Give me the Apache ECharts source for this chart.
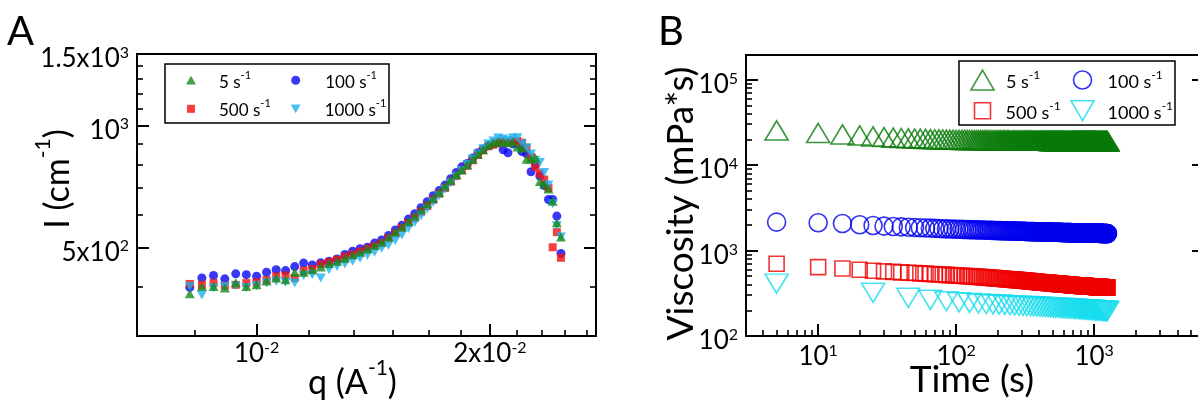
<!DOCTYPE html>
<html>
<head>
<meta charset="utf-8">
<script src="https://cdn.jsdelivr.net/npm/echarts@6/dist/echarts.min.js"></script>
<style>
html,body{margin:0;padding:0;background:#fff;}
#chart{width:1198px;height:403px;background:#fff;}
</style>
</head>
<body>
<div id="chart"></div>
<script>
// ---------------- Panel A data: I(q) ----------------
const qValues = [
  0.0082,0.0085,0.0088,0.0091,0.0094,0.0097,0.0100,0.0103,0.0106,0.0109,
  0.0112,0.0115,0.0118,0.0121,0.0124,0.0127,0.0130,0.0133,0.0136,0.0139,
  0.0142,0.0145,0.0148,0.0151,0.0154,0.0157,0.0160,0.0163,0.0166,0.0169,
  0.0172,0.0175,0.0178,0.0181,0.0184,0.0187,0.0190,0.0193,0.0196,0.0199,
  0.0202,0.0205,0.0208,0.0211,0.0214,0.0217,0.0220,0.0223,0.0226,0.0229,
  0.0232,0.0235,0.0238,0.0241,0.0244,0.0247
];
const intensity5 = [
  384,400,400,397,409,400,404,413,420,416,
  434,434,440,447,456,462,470,479,486,495,
  506,515,530,546,561,579,597,619,640,661,
  684,708,732,756,776,798,823,848,871,893,
  906,911,910,906,910,884,878,825,826,830,
  727,716,696,650,575,530
];
const intensity100 = [
  398,420,426,418,430,428,424,434,440,438,
  448,457,452,458,462,468,480,489,496,500,
  512,521,535,552,567,587,605,626,648,670,
  690,712,738,765,790,805,830,856,874,890,
  900,905,870,856,900,898,862,850,768,800,
  750,710,656,656,597,483
];
const intensity500 = [
  406,404,408,402,404,408,410,415,424,426,
  420,438,442,454,460,466,474,480,488,496,
  504,512,526,541,558,574,591,612,632,655,
  678,700,726,750,775,795,820,845,868,888,
  896,906,912,908,912,915,906,880,835,790,
  760,735,700,500,545,471
];
const intensity1000 = [
  400,381,397,400,402,398,402,408,412,410,
  408,426,428,420,440,448,455,462,470,478,
  486,497,506,520,536,556,576,598,622,646,
  670,695,722,748,774,800,826,850,876,900,
  915,930,925,918,930,932,900,880,850,820,
  810,765,712,640,565,530
];

// ---------------- Panel B data: viscosity(t) ----------------
const timeStep5 = [
  5,10,15,20,25,30,35,40,45,50,55,60,65,70,75,80,85,90,95,100,
  105,110,115,120,125,130,135,140,145,150,155,160,165,170,175,180,185,190,195,200,
  205,210,215,220,225,230,235,240,245,250,255,260,265,270,275,280,285,290,295,300,
  305,310,315,320,325,330,335,340,345,350,355,360,365,370,375,380,385,390,395,400,
  405,410,415,420,425,430,435,440,445,450,455,460,465,470,475,480,485,490,495,500,
  505,510,515,520,525,530,535,540,545,550,555,560,565,570,575,580,585,590,595,600,
  605,610,615,620,625,630,635,640,645,650,655,660,665,670,675,680,685,690,695,700,
  705,710,715,720,725,730,735,740,745,750,755,760,765,770,775,780,785,790,795,800,
  805,810,815,820,825,830,835,840,845,850,855,860,865,870,875,880,885,890,895,900,
  905,910,915,920,925,930,935,940,945,950,955,960,965,970,975,980,985,990,995,1000,
  1005,1010,1015,1020,1025,1030,1035,1040,1045,1050,1055,1060,1065,1070,1075,1080,1085,1090,1095,1100,
  1105,1110,1115,1120,1125,1130,1135,1140,1145,1150,1155,1160,1165,1170,1175,1180,1185,1190,1195,1200,
  1205,1210,1215,1220,1225,1230,1235,1240,1245,1250
];
const timeStep20 = [
  5,25,45,65,85,105,125,145,165,185,
  205,225,245,265,285,305,325,345,365,385,
  405,425,445,465,485,505,525,545,565,585,
  605,625,645,665,685,705,725,745,765,785,
  805,825,845,865,885,905,925,945,965,985,
  1005,1025,1045,1065,1085,1105,1125,1145,1165,1185,
  1205,1225,1245
];
const viscosity5 = [
  25400,23700,22800,22200,21600,21200,20900,20700,20500,20400,20300,20200,20100,20000,19950,19900,19850,19800,19750,19700,
  19680,19660,19650,19630,19620,19600,19590,19570,19560,19550,19540,19520,19510,19500,19490,19470,19460,19450,19430,19420,
  19410,19400,19400,19390,19380,19370,19370,19360,19350,19340,19340,19330,19320,19320,19310,19300,19300,19290,19280,19280,
  19270,19270,19260,19260,19250,19250,19240,19240,19230,19230,19220,19220,19220,19210,19210,19200,19200,19200,19190,19190,
  19190,19180,19180,19180,19170,19170,19170,19160,19160,19160,19160,19150,19150,19150,19150,19140,19140,19140,19140,19130,
  19130,19130,19130,19120,19120,19120,19120,19120,19110,19110,19110,19110,19110,19100,19100,19100,19100,19100,19100,19090,
  19090,19090,19090,19090,19080,19080,19080,19080,19080,19080,19070,19070,19070,19070,19070,19070,19060,19060,19060,19060,
  19060,19060,19050,19050,19050,19050,19050,19050,19050,19040,19040,19040,19040,19040,19040,19040,19030,19030,19030,19030,
  19030,19030,19030,19030,19020,19020,19020,19020,19020,19020,19020,19020,19010,19010,19010,19010,19010,19010,19010,19010,
  19000,19000,19000,19000,19000,18990,18990,18990,18990,18990,18990,18990,18990,18980,18980,18980,18980,18980,18980,18980,
  18980,18970,18970,18970,18970,18970,18970,18970,18970,18960,18960,18960,18960,18960,18960,18960,18960,18950,18950,18950,
  18950,18950,18950,18950,18950,18940,18940,18940,18940,18940,18940,18940,18940,18930,18930,18930,18930,18930,18930,18930,
  18920,18920,18920,18920,18920,18910,18910,18910,18900,18900
];
const viscosity100 = [
  2150,2110,2070,2000,1960,1930,1910,1890,1870,1855,1845,1835,1825,1815,1808,1800,1793,1786,1780,1775,
  1770,1766,1762,1758,1754,1750,1747,1744,1741,1738,1735,1732,1729,1726,1724,1721,1719,1716,1714,1712,
  1710,1708,1706,1704,1702,1700,1698,1696,1695,1693,1691,1690,1688,1687,1685,1684,1682,1681,1679,1678,
  1677,1675,1674,1673,1671,1670,1669,1668,1667,1665,1664,1663,1662,1661,1660,1659,1658,1657,1656,1655,
  1654,1653,1652,1651,1650,1649,1648,1648,1647,1646,1645,1644,1643,1643,1642,1641,1640,1640,1639,1638,
  1637,1637,1636,1635,1635,1634,1633,1633,1632,1631,1631,1630,1629,1629,1628,1628,1627,1626,1626,1625,
  1625,1624,1624,1623,1622,1622,1621,1621,1620,1620,1619,1619,1618,1618,1617,1617,1616,1616,1615,1615,
  1614,1614,1613,1613,1612,1612,1612,1611,1611,1610,1610,1609,1609,1609,1608,1608,1607,1607,1607,1606,
  1606,1605,1605,1605,1604,1604,1604,1603,1603,1603,1602,1602,1601,1601,1601,1600,1600,1600,1599,1599,
  1599,1598,1598,1598,1597,1597,1597,1596,1596,1596,1596,1595,1595,1595,1594,1594,1594,1593,1593,1593,
  1593,1592,1592,1592,1591,1591,1591,1591,1590,1590,1590,1589,1589,1589,1589,1588,1588,1588,1588,1587,
  1587,1587,1587,1586,1586,1586,1586,1585,1585,1585,1585,1584,1584,1584,1584,1583,1583,1583,1583,1582,
  1582,1582,1582,1582,1581,1581,1581,1581,1580,1580
];
const viscosity500 = [
  700,640,615,595,580,570,562,555,550,545,540,536,532,528,525,522,519,516,513,510,
  508,506,504,502,500,498,496,494,492,490,488,486,484,482,480,479,477,475,473,471,
  470,469,467,466,465,463,462,461,459,458,457,456,454,453,452,451,450,448,447,446,
  445,444,443,442,441,440,439,438,437,436,435,434,433,432,431,431,430,429,428,427,
  426,426,425,424,423,422,422,421,420,420,419,418,418,417,416,416,415,414,414,413,
  412,412,411,411,410,409,409,408,408,407,407,406,406,405,405,404,404,403,403,402,
  402,401,401,400,400,400,399,399,398,398,397,397,397,396,396,395,395,395,394,394,
  393,393,393,392,392,392,391,391,391,390,390,390,389,389,389,388,388,388,387,387,
  387,387,386,386,386,385,385,385,385,384,384,384,384,383,383,383,383,382,382,382,
  382,381,381,381,381,380,380,380,380,380,379,379,379,379,378,378,378,378,378,377,
  377,377,377,377,376,376,376,376,376,375,375,375,375,375,375,374,374,374,374,374,
  373,373,373,373,373,373,372,372,372,372,372,372,371,371,371,371,371,371,370,370,
  370,370,370,370,370,369,369,369,369,369
];
const viscosity1000 = [
  410,320,280,265,255,248,244,240,237,235,
  233,231,229,228,226,225,224,223,222,221,
  220,219,218,217,216,215,214,214,213,212,
  212,211,210,210,209,209,208,207,207,206,
  206,205,205,204,204,203,203,202,202,201,
  201,200,200,199,199,199,198,198,197,197,
  197,196,196
];

// ---------------- labels / ticks ----------------
const rateNames = ['5 s[-1]', '100 s[-1]', '500 s[-1]', '1000 s[-1]'];
const aXTicks = [0.01, 0.02];
const aXTickLabels = ['10[-2]', '2x10[-2]'];
const aXMinorTicks = [0.00833, 0.01167, 0.01333, 0.015, 0.01667, 0.01833, 0.02167, 0.02333, 0.025, 0.02667];
const aYTicks = [500, 1000, 1500];
const aYTickLabels = ['5x10[2]', '10[3]', '1.5x10[3]'];
const aYMinorTicks = [400, 600, 700, 800, 900, 1100, 1200, 1300, 1400];
const bXTicks = [10, 100, 1000];
const bXTickLabels = ['10[1]', '10[2]', '10[3]'];
const bXMinorTicks = [4,5,6,7,8,9,20,30,40,50,60,70,80,90,200,300,400,500,600,700,800,900,2000,3000,4000,5000,6000];
const bYTicks = [100, 1000, 10000, 100000];
const bYTickLabels = ['10[2]', '10[3]', '10[4]', '10[5]'];
const bYMinorTicks = [200,300,400,500,600,700,800,900,2000,3000,4000,5000,6000,7000,8000,9000,20000,30000,40000,50000,60000,70000,80000,90000];
const titleA = {x: 'q (A[-1])', y: 'I (cm[-1])', panel: 'A'};
const titleB = {x: 'Time (s)', y: 'Viscosity (mPa*s)', panel: 'B'};

const FONT = 'Lato';
function rich(str, spacer) {
  return (spacer ? '{p|\u200b}' : '') + str.split(/(\[[^\]]*\])/).filter(Boolean).map(function (p) {
    return p[0] === '[' ? '{s|' + p.slice(1, -1) + '}' : '{b|' + p + '}';
  }).join('') + '{h|\u200b}';
}
function richStyle(main, sup, line, spacer) {
  return {
    p: {width: spacer || 0, fontSize: 1, lineHeight: 1},
    b: {fontSize: main, lineHeight: main, verticalAlign: 'bottom', color: '#000', fontFamily: FONT},
    s: {fontSize: sup, lineHeight: sup, verticalAlign: 'top', color: '#000', fontFamily: FONT},
    h: {fontSize: 1, lineHeight: line, color: '#000'}
  };
}
function fmt(values, labels) {
  return function (v) {
    for (let i = 0; i < values.length; i++) {
      if (Math.abs(v - values[i]) / values[i] < 1e-6) return rich(labels[i]);
    }
    return '';
  };
}
const tickRich = richStyle(26, 16, 27);
const nameRichA = richStyle(34, 21, 42);
const nameRichB = richStyle(37, 23, 46);

const colA = {g: '#178a17', b: '#0808f2', r: '#f41010', c: '#1cb0ee'};
const colB = {g: '#0a7a0a', b: '#0000ee', r: '#f00000', c: '#16dcee'};

const P_UP = 'path://M5,0L10,8.66L0,8.66Z';
const P_DOWN = 'path://M0,0L10,0L5,8.66Z';
const P_CIRC = 'path://M0,5A5,5,0,1,1,10,5A5,5,0,1,1,0,5Z';
const P_SQ = 'path://M0,0L10,0L10,10L0,10Z';

const A = {xMin: 0.00701, xMax: 0.02741, yMin: 302, yMax: 1500};
const B = {xMin: 3, xMax: 6250, yMin: 100, yMax: 193600};

function axisBase(grid, pos, min, max) {
  return {
    type: 'log', logBase: 10, gridIndex: grid, position: pos, min: min, max: max,
    axisLine: {show: false}, splitLine: {show: false}, minorTick: {show: false},
    axisPointer: {show: false}, nameMoveOverlap: false
  };
}
function majorAxis(grid, pos, min, max, ticks, labels, showLabels, margin, pad) {
  const a = axisBase(grid, pos, min, max);
  a.axisTick = {show: true, inside: true, length: 12, lineStyle: {color: '#000', width: 2}, customValues: ticks};
  a.axisLabel = showLabels ? {show: true, customValues: ticks, formatter: fmt(ticks, labels), margin: margin, rich: tickRich, padding: pad || 0} : {show: false};
  return a;
}
function minorAxis(grid, pos, min, max, ticks) {
  const a = axisBase(grid, pos, min, max);
  a.axisTick = {show: true, inside: true, length: 6, lineStyle: {color: '#000', width: 1.6}, customValues: ticks};
  a.axisLabel = {show: false};
  return a;
}
function withName(axis, text, gap, rot, richSt, pad) {
  return Object.assign(axis, {
    name: rich(text), nameLocation: 'middle', nameGap: gap, nameRotate: rot,
    nameTextStyle: {rich: richSt, padding: pad}
  });
}

const xAxes = [
  withName(majorAxis(0, 'bottom', A.xMin, A.xMax, aXTicks, aXTickLabels, true, 4), titleA.x, 22, 0, nameRichA, [0, 28, 0, 0]),
  minorAxis(0, 'bottom', A.xMin, A.xMax, aXMinorTicks),
  withName(majorAxis(1, 'bottom', B.xMin, B.xMax, bXTicks, bXTickLabels, true, 7), titleB.x, 17, 0, nameRichB, [0, 6, 0, 0]),
  minorAxis(1, 'bottom', B.xMin, B.xMax, bXMinorTicks)
];
const yAxes = [
  withName(majorAxis(0, 'left', A.yMin, A.yMax, aYTicks, aYTickLabels, true, 8, [9, 0, 0, 0]), titleA.y, 62, 90, nameRichA, [0, 0, 0, 32]),
  minorAxis(0, 'left', A.yMin, A.yMax, aYMinorTicks),
  majorAxis(0, 'right', A.yMin, A.yMax, aYTicks, aYTickLabels, false, 0),
  minorAxis(0, 'right', A.yMin, A.yMax, aYMinorTicks),
  withName(majorAxis(1, 'left', B.yMin, B.yMax, bYTicks, bYTickLabels, true, 8, [9, 0, 0, 0]), titleB.y, 46, 90, nameRichB, [0, 16, 0, 0]),
  minorAxis(1, 'left', B.yMin, B.yMax, bYMinorTicks),
  majorAxis(1, 'right', B.yMin, B.yMax, bYTicks, bYTickLabels, false, 0),
  minorAxis(1, 'right', B.yMin, B.yMax, bYMinorTicks)
];

function pairs(xs, ys) { return xs.map(function (x, i) { return [x, ys[i]]; }); }

function seriesA(name, ys, symbol, size, color) {
  return {type: 'scatter', name: name, xAxisIndex: 0, yAxisIndex: 0, data: pairs(qValues, ys),
    symbol: symbol, symbolSize: size, itemStyle: {color: color, borderWidth: 0}, silent: true};
}
function seriesB(name, xs, ys, symbol, size, color) {
  return {type: 'scatter', name: name, xAxisIndex: 2, yAxisIndex: 4, data: pairs(xs, ys),
    symbol: symbol, symbolSize: size,
    itemStyle: {color: 'rgba(0,0,0,0)', borderColor: color, borderWidth: 1.6}, silent: true};
}

const series = [
  seriesA('A100', intensity100, 'circle', 9, colA.b),
  seriesA('A500', intensity500, 'rect', 8, colA.r),
  seriesA('A1000', intensity1000, P_DOWN, [10, 9], colA.c),
  seriesA('A5', intensity5, 'triangle', [10, 9], colA.g),
  seriesB('B5', timeStep5, viscosity5, 'triangle', [23, 19], colB.g),
  seriesB('B100', timeStep5, viscosity100, 'circle', 18, colB.b),
  seriesB('B500', timeStep5, viscosity500, 'rect', 15, colB.r),
  seriesB('B1000', timeStep20, viscosity1000, P_DOWN, [23, 19], colB.c)
];

// legend: icon width = itemWidth, text offset via spacer
function legendItem(name, label, icon, left, top, w, h, style, main, sup, line, spacer) {
  return {
    data: [{name: name, icon: icon, itemStyle: style}],
    left: left, top: top, itemWidth: w, itemHeight: h, padding: 0, itemGap: 0,
    selectedMode: false, formatter: function () { return rich(label, true); },
    textStyle: {rich: richStyle(main, sup, line, spacer)}
  };
}
const hollow = function (c) { return {color: 'rgba(0,0,0,0)', borderColor: c, borderWidth: 1.6}; };
const legends = [
  legendItem('A5', rateNames[0], P_UP, 186, 69.7, 10, 8.7, {color: colA.g, borderWidth: 0}, 17, 11, 21, 18),
  legendItem('A100', rateNames[1], P_CIRC, 291.2, 69.7, 9, 9, {color: colA.b, borderWidth: 0}, 17, 11, 21, 20),
  legendItem('A500', rateNames[2], P_SQ, 187, 98.3, 8, 8, {color: colA.r, borderWidth: 0}, 17, 11, 21, 19),
  legendItem('A1000', rateNames[3], P_DOWN, 290.7, 98.3, 10, 8.7, {color: colA.c, borderWidth: 0}, 17, 11, 21, 19),
  legendItem('B5', rateNames[0], P_UP, 970.2, 69, 23, 20, hollow(colB.g), 18, 12, 22, 7),
  legendItem('B100', rateNames[1], P_CIRC, 1072.7, 69, 18, 18, hollow(colB.b), 18, 12, 22, 11),
  legendItem('B500', rateNames[2], P_SQ, 973.7, 99.7, 16, 16, hollow(colB.r), 18, 12, 22, 10),
  legendItem('B1000', rateNames[3], P_DOWN, 1070.2, 99.7, 23, 20, hollow(colB.c), 18, 12, 22, 8.5)
];

const chart = echarts.init(document.getElementById('chart'), null, {renderer: 'canvas'});
chart.setOption({
  animation: false,
  backgroundColor: '#fff',
  textStyle: {fontFamily: FONT, color: '#000'},
  grid: [
    {left: 137, top: 54, width: 459, height: 282, show: true, borderColor: '#000', borderWidth: 2, backgroundColor: 'rgba(0,0,0,0)', containLabel: false, outerBoundsMode: 'none'},
    {left: 746, top: 55, width: 458, height: 281, show: true, borderColor: '#000', borderWidth: 2, backgroundColor: 'rgba(0,0,0,0)', containLabel: false, outerBoundsMode: 'none'}
  ],
  xAxis: xAxes,
  yAxis: yAxes,
  legend: legends,
  series: series,
  graphic: [
    {type: 'rect', shape: {x: 165, y: 64, width: 224, height: 59}, style: {fill: 'none', stroke: '#000', lineWidth: 1.5}, z: 1},
    {type: 'rect', shape: {x: 959, y: 61, width: 216, height: 64}, style: {fill: 'none', stroke: '#000', lineWidth: 1.5}, z: 1},
    {type: 'text', left: 7, top: 12, style: {text: titleA.panel, fontSize: 40, fontFamily: FONT, fill: '#000'}},
    {type: 'text', left: 658, top: 12, style: {text: titleB.panel, fontSize: 40, fontFamily: FONT, fill: '#000'}}
  ]
});
</script>
</body>
</html>
